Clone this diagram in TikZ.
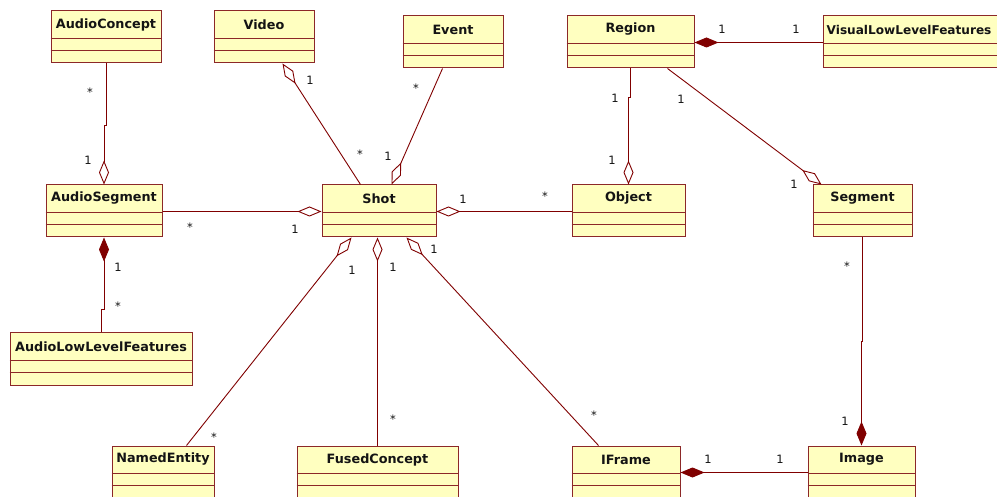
\documentclass[tikz,border=0pt]{standalone}
\usepackage{fontspec}
\setmainfont{DejaVu Sans}
\usetikzlibrary{arrows.meta}

\definecolor{boxfill}{RGB}{255,255,192}
\definecolor{boxedge}{RGB}{140,40,40}
\definecolor{wire}{RGB}{128,0,0}
\definecolor{inktext}{RGB}{20,20,20}

\tikzset{
  classbox/.style={rectangle, draw=boxedge, fill=boxfill, line width=1pt,
    inner sep=0pt, minimum height=52pt},
  classname/.style={font=\bfseries\fontsize{12.8}{14}\selectfont, text=inktext, inner sep=0pt},
  divider/.style={draw=boxedge, line width=1pt},
  assoc/.style={draw=wire, line width=0.9pt},
  agg/.style={assoc, -{Diamond[open, length=24pt, width=10pt, line width=0.9pt]}},
  comp/.style={assoc, -{Diamond[length=24pt, width=10pt, fill=wire]}},
  mult/.style={font=\fontsize{11.5}{13}\selectfont, text=inktext, inner sep=0pt},
}

% class box without title: node name, left, top, right
\newcommand\umlframe[4]{%
  \node[classbox, minimum width={(#4)-(#2)}] (#1) at ({((#2)+(#4))/2},{(#3)+26}) {};
  \draw[divider] ([yshift=-28pt]#1.north west) -- ([yshift=-28pt]#1.north east);
  \draw[divider] ([yshift=-40pt]#1.north west) -- ([yshift=-40pt]#1.north east);
}
% class box with centred title: node name, left, top, right, class name
\newcommand\umlclass[5]{%
  \umlframe{#1}{#2}{#3}{#4}
  \node[classname] (#1-title) at ([yshift=-14pt]#1.north) {#5};
}
% multiplicity label: node name, x, y, text
\newcommand\mult[4]{\node[mult] (#1) at (#2,#3) {#4};}

\begin{document}
\begin{tikzpicture}[x=1pt, y=-1pt]
  \path[use as bounding box] (0,0) rectangle (997,497);
  \clip (0,0) rectangle (997,497);
  \fill[white] (0,0) rectangle (997,497);

  % classes
  \umlclass{acon}{51}{11}{161}{AudioConcept}
  \umlclass{video}{214}{11}{314}{Video}
  \umlclass{event}{403}{16}{503}{Event}
  \umlclass{region}{567}{16}{694}{Region}
  \umlframe{vllf}{823}{16}{1013}
  \node[classname, font=\bfseries\fontsize{12.1}{14}\selectfont, anchor=west] (vllf-title)
    at ([xshift=4pt, yshift=-14pt]vllf.north west) {VisualLowLevelFeatures};
  \umlclass{aseg}{46}{185}{162}{AudioSegment}
  \umlclass{shot}{322}{185}{436}{Shot}
  \umlclass{obj}{572}{185}{685}{Object}
  \umlclass{seg}{813}{185}{912}{Segment}
  \umlclass{alf}{10}{333}{192}{AudioLowLevelFeatures}
  \umlclass{ne}{112}{446}{214}{NamedEntity}
  \umlclass{fc}{297}{446}{458}{FusedConcept}
  \umlclass{ifr}{572}{446}{680}{IFrame}
  \umlclass{img}{808}{446}{915}{Image}

  % associations (diamond at the whole's end)
  \draw[agg] (acon.south) -- ++(0,62) -| (aseg.north);
  \draw[comp] (alf.north) -- ++(0,-23) -| (aseg.south);
  \draw[agg] ([yshift=-27pt]aseg.north east) -- ([yshift=-27pt]shot.north west);
  \draw[agg] ([yshift=-27pt]obj.north west) -- ([yshift=-27pt]shot.north east);
  \draw[agg] ([xshift=39pt]shot.north west) -- ([xshift=69pt]video.south west);
  \draw[agg] ([xshift=40pt]event.south west) -- ([xshift=70pt]shot.north west);
  \draw[agg] ([xshift=75pt]ne.north west) -- ([xshift=30pt]shot.south west);
  \draw[agg] (fc.north) -- (fc.north |- shot.south);
  \draw[agg] ([xshift=27pt]ifr.north west) -- ([xshift=85pt]shot.south west);
  \draw[agg] (region.south) -- ++(0,29) -| (obj.north);
  \draw[agg] ([xshift=101pt]region.south west) -- ([xshift=9pt]seg.north west);
  \draw[comp] ([yshift=-27pt]vllf.north west) -- ([yshift=-27pt]region.north east);
  \draw[comp] (seg.south) -- ++(0,104) -| (img.north);
  \draw[comp] ([yshift=-27pt]img.north west) -- ([yshift=-27pt]ifr.north east);

  % multiplicities
  \mult{m1}{90}{92}{*}   \mult{m2}{88}{160}{1}
  \mult{m3}{190}{227}{*} \mult{m4}{295}{229}{1}
  \mult{m5}{118}{267}{1} \mult{m6}{118}{306}{*}
  \mult{m7}{310}{80}{1}  \mult{m8}{360}{154}{*}
  \mult{m9}{416}{88}{*}  \mult{m10}{388}{156}{1}
  \mult{m11}{463}{199}{1} \mult{m12}{545}{196}{*}
  \mult{m13}{615}{98}{1} \mult{m14}{612}{160}{1}
  \mult{m15}{681}{99}{1} \mult{m16}{794}{184}{1}
  \mult{m17}{722}{29}{1} \mult{m18}{796}{29}{1}
  \mult{m19}{847}{266}{*} \mult{m20}{845}{421}{1}
  \mult{m21}{708}{459}{1} \mult{m22}{780}{459}{1}
  \mult{m23}{352}{270}{1} \mult{m24}{214}{437}{*}
  \mult{m25}{393}{267}{1} \mult{m26}{393}{419}{*}
  \mult{m27}{434}{249}{1} \mult{m28}{594}{415}{*}
\end{tikzpicture}
\end{document}
